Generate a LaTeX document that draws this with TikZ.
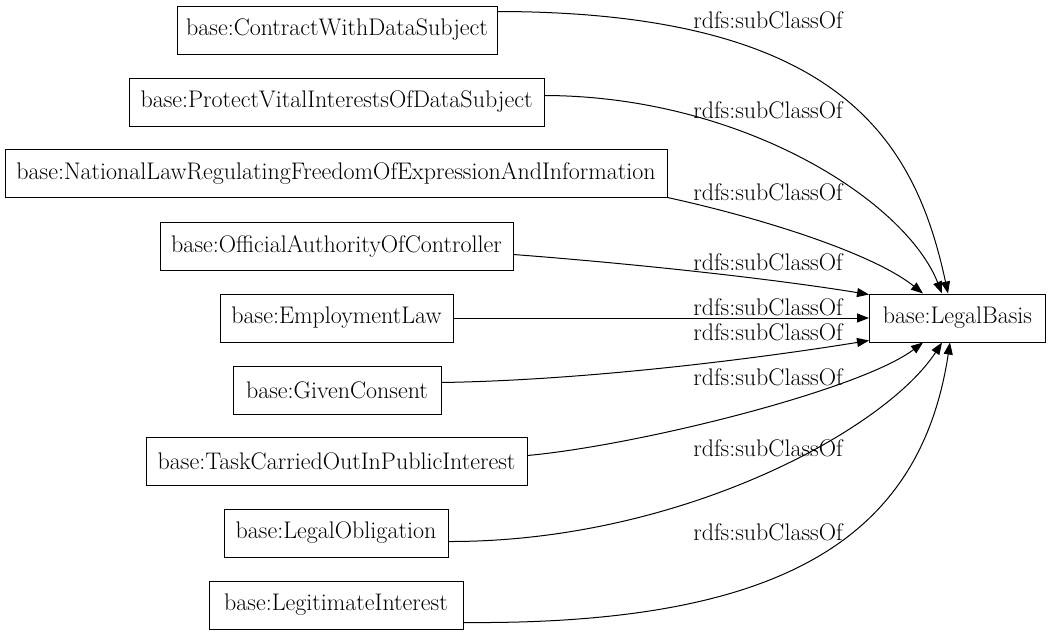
\documentclass[tikz,border=0pt]{standalone}
\usepackage{tikz}
\usetikzlibrary{arrows.meta, calc, positioning}
\tikzset{
  classe/.style={draw, line width=1pt, minimum height=48pt, inner sep=0pt, font=\fontsize{24}{28}\selectfont},
  lien/.style={line width=1pt, -{Triangle[length=12pt,width=9pt]}},
  etiq/.style={inner sep=0pt, font=\fontsize{24}{28}\selectfont}
}

\begin{document}
\begin{tikzpicture}[x=1pt, y=-1pt]
    \useasboundingbox (0,0) rectangle (1051,635);

    %les classes filles
    \node[classe, minimum width=320pt] (contrat) at (337,30) {base:ContractWithDataSubject};
    \node[classe, minimum width=415pt] (vital) at (336.5,102) {base:ProtectVitalInterestsOfDataSubject};
    \node[classe, minimum width=662pt] (national) at (336,173) {base:NationalLawRegulatingFreedomOfExpressionAndInformation};
    \node[classe, minimum width=353pt] (autorite) at (336.5,246) {base:OfficialAuthorityOfController};
    \node[classe, minimum width=233pt] (emploi) at (336.5,318) {base:EmploymentLaw};
    \node[classe, minimum width=208pt] (consent) at (337,390) {base:GivenConsent};
    \node[classe, minimum width=381pt] (tache) at (336.5,461) {base:TaskCarriedOutInPublicInterest};
    \node[classe, minimum width=224pt] (obligation) at (336,533) {base:LegalObligation};
    \node[classe, minimum width=254pt] (legitime) at (336,605) {base:LegitimateInterest};

    %la classe mere
    \node[classe, minimum width=176pt] (base) at (957.5,318) {base:LegalBasis};

    %les liens subClassOf
    \draw[lien] ([yshift=-6pt]contrat.north east) .. controls (840,12) and (915,140) .. ([xshift=-9.5pt]base.north);
    \draw[lien] ([yshift=-18pt]vital.north east) .. controls (741,96) and (905,200) .. ([xshift=-15.5pt]base.north);
    \draw[lien] (national.south east) .. controls (770,220) and (875,255) .. ([xshift=-34.5pt]base.north);
    \draw[lien] ([yshift=-33pt]autorite.north east) .. controls (650,265) and (780,280) .. ([yshift=-1pt]base.north west);
    \draw[lien] (emploi.east) -- (base.west);
    \draw[lien] ([yshift=-17pt]consent.north east) .. controls (600,380) and (780,355) .. ([yshift=2pt]base.south west);
    \draw[lien] ([yshift=-19pt]tache.north east) .. controls (640,445) and (860,390) .. ([xshift=-34.5pt]base.south);
    \draw[lien] ([yshift=-33pt]obligation.north east) .. controls (680,542) and (885,430) .. ([xshift=-15.5pt]base.south);
    \draw[lien] ([yshift=7pt]legitime.south east) .. controls (780,625) and (920,540) .. ([xshift=-7.5pt]base.south);

    %les etiquettes
    \node[etiq] (e1) at (768,20) {rdfs:subClassOf};
    \node[etiq] (e2) at (768,110) {rdfs:subClassOf};
    \node[etiq] (e3) at (768,192) {rdfs:subClassOf};
    \node[etiq] (e4) at (768,262) {rdfs:subClassOf};
    \node[etiq] (e5) at (768,307) {rdfs:subClassOf};
    \node[etiq] (e6) at (768,332) {rdfs:subClassOf};
    \node[etiq] (e7) at (768,377) {rdfs:subClassOf};
    \node[etiq] (e8) at (768,448) {rdfs:subClassOf};
    \node[etiq] (e9) at (768,532) {rdfs:subClassOf};
\end{tikzpicture}
\end{document}
